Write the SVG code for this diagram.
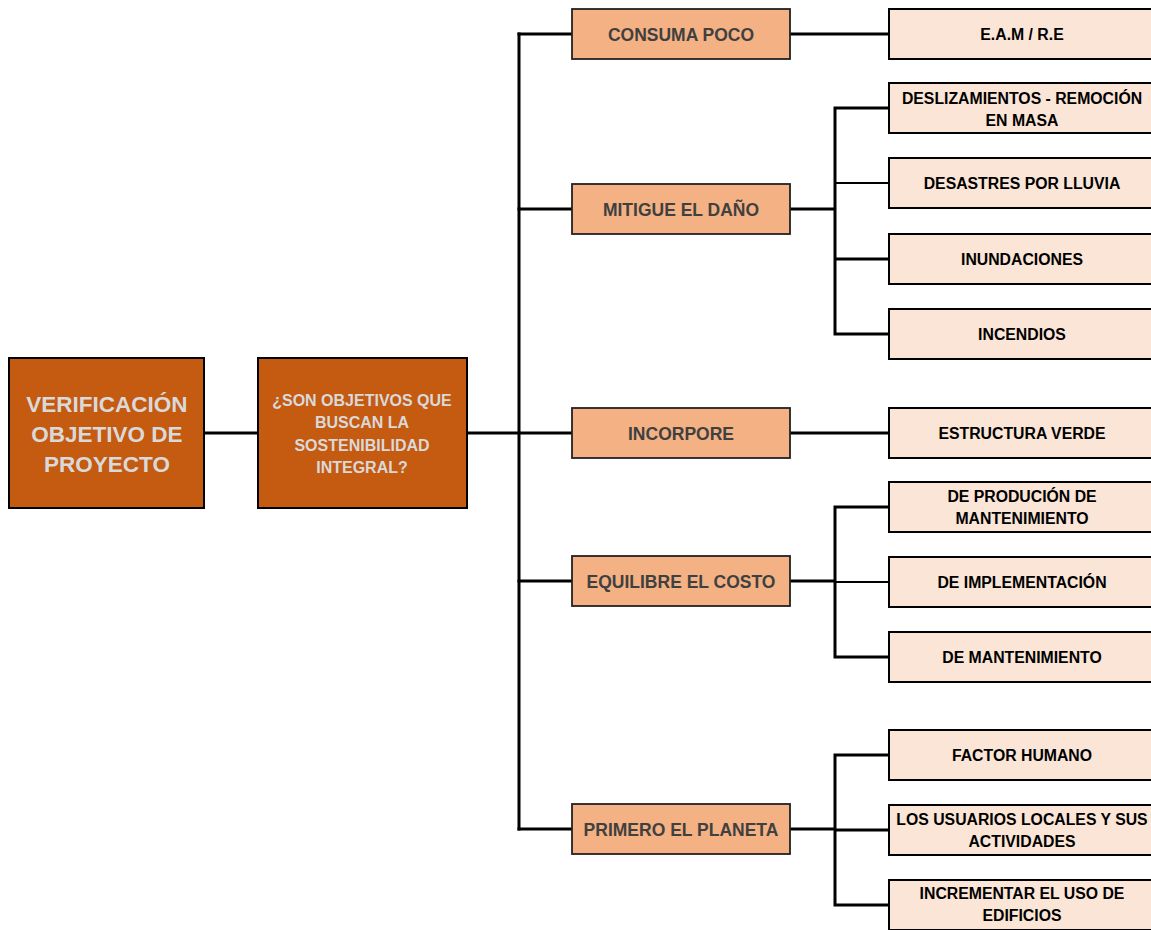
<svg xmlns="http://www.w3.org/2000/svg" width="1151" height="930" viewBox="0 0 1151 930">
<style>
.conn{fill:none;stroke:#000;stroke-width:3;stroke-linecap:square}
.thin{stroke-width:1.8}
.root{fill:#C55A11;stroke:#000;stroke-width:2}
.mid{fill:#F4B183;stroke:#222;stroke-width:1.8}
.leaf{fill:#FBE5D6;stroke:#000;stroke-width:2}
text{font-family:"Liberation Sans",Arial,sans-serif;font-weight:bold;text-anchor:middle}
.tr{fill:#D9D9D9;font-size:22.5px}
.tq{fill:#D9D9D9;font-size:16px}
.tm{fill:#404040;font-size:17.5px}
.tl{fill:#000;font-size:15.8px}
</style>
<rect width="1151" height="930" fill="#fff"/>
<g id="connectors">
<path class="conn" d="M204,433H258"/>
<path class="conn" d="M467,433H572"/>
<path class="conn" d="M519,34V829"/>
<path class="conn" d="M519,34H572M519,209H572M519,581H572M519,829H572"/>
<path class="conn" d="M790,34H889"/>
<path class="conn" d="M790,209H835M835,108V334M835,108H889M835,259H889M835,334H889"/>
<path class="conn thin" d="M835,183H889"/>
<path class="conn" d="M790,433H889"/>
<path class="conn" d="M790,581H835M835,507V657M835,507H889M835,657H889"/>
<path class="conn thin" d="M835,582H889"/>
<path class="conn" d="M790,829H835M835,755V905M835,755H889M835,830H889M835,905H889"/>
</g>
<g id="n-root"><rect class="root" x="9" y="358" width="195" height="150"/>
<text class="tr" x="107" y="412">VERIFICACIÓN</text><text class="tr" x="107" y="442">OBJETIVO DE</text><text class="tr" x="107" y="472">PROYECTO</text></g>
<g id="n-question"><rect class="root" x="258" y="358" width="209" height="150"/>
<text class="tq" x="362" y="405.5">¿SON OBJETIVOS QUE</text><text class="tq" x="362" y="428">BUSCAN LA</text><text class="tq" x="362" y="450.5">SOSTENIBILIDAD</text><text class="tq" x="362" y="473">INTEGRAL?</text></g>
<g id="n-consuma"><rect class="mid" x="572" y="9" width="218" height="50"/><text class="tm" x="681" y="40.5">CONSUMA POCO</text></g>
<g id="n-mitigue"><rect class="mid" x="572" y="184" width="218" height="50"/><text class="tm" x="681" y="215.5">MITIGUE EL DAÑO</text></g>
<g id="n-incorpore"><rect class="mid" x="572" y="408" width="218" height="50"/><text class="tm" x="681" y="439.5">INCORPORE</text></g>
<g id="n-equilibre"><rect class="mid" x="572" y="556" width="218" height="50"/><text class="tm" x="681" y="587.5">EQUILIBRE EL COSTO</text></g>
<g id="n-primero"><rect class="mid" x="572" y="804" width="218" height="50"/><text class="tm" x="681" y="835.5">PRIMERO EL PLANETA</text></g>
<g id="n-eam"><rect class="leaf" x="889" y="9" width="265" height="50"/><text class="tl" x="1022" y="40">E.A.M / R.E</text></g>
<g id="n-desliz"><rect class="leaf" x="889" y="83" width="265" height="50"/><text class="tl" x="1022" y="104">DESLIZAMIENTOS - REMOCIÓN</text><text class="tl" x="1022" y="126">EN MASA</text></g>
<g id="n-desastres"><rect class="leaf" x="889" y="158" width="265" height="50"/><text class="tl" x="1022" y="189">DESASTRES POR LLUVIA</text></g>
<g id="n-inund"><rect class="leaf" x="889" y="234" width="265" height="50"/><text class="tl" x="1022" y="265">INUNDACIONES</text></g>
<g id="n-incend"><rect class="leaf" x="889" y="309" width="265" height="50"/><text class="tl" x="1022" y="340">INCENDIOS</text></g>
<g id="n-estructura"><rect class="leaf" x="889" y="408" width="265" height="50"/><text class="tl" x="1022" y="439">ESTRUCTURA VERDE</text></g>
<g id="n-produc"><rect class="leaf" x="889" y="482" width="265" height="50"/><text class="tl" x="1022" y="502">DE PRODUCIÓN DE</text><text class="tl" x="1022" y="524">MANTENIMIENTO</text></g>
<g id="n-implem"><rect class="leaf" x="889" y="557" width="265" height="50"/><text class="tl" x="1022" y="588">DE IMPLEMENTACIÓN</text></g>
<g id="n-mant"><rect class="leaf" x="889" y="632" width="265" height="50"/><text class="tl" x="1022" y="663">DE MANTENIMIENTO</text></g>
<g id="n-factor"><rect class="leaf" x="889" y="730" width="265" height="50"/><text class="tl" x="1022" y="761">FACTOR HUMANO</text></g>
<g id="n-usuarios"><rect class="leaf" x="889" y="805" width="265" height="50"/><text class="tl" x="1022" y="825">LOS USUARIOS LOCALES Y SUS</text><text class="tl" x="1022" y="847">ACTIVIDADES</text></g>
<g id="n-increm"><rect class="leaf" x="889" y="880" width="265" height="50"/><text class="tl" x="1022" y="899">INCREMENTAR EL USO DE</text><text class="tl" x="1022" y="921">EDIFICIOS</text></g>
</svg>
